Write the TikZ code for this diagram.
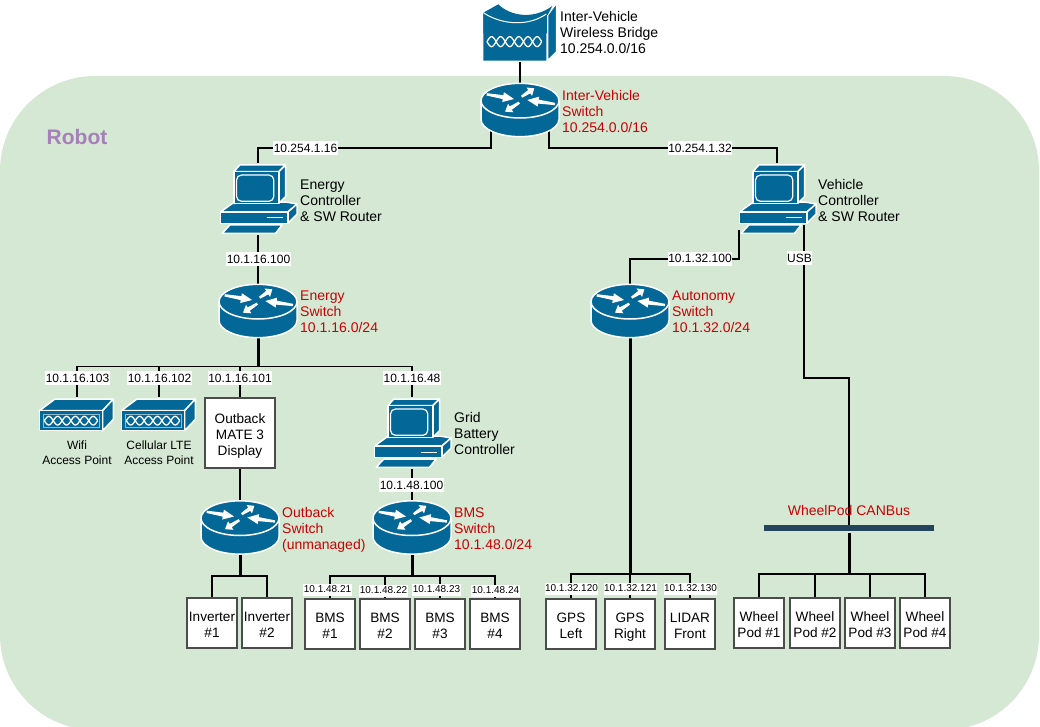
\documentclass[tikz,border=0pt]{standalone}
\usepackage{fontspec}
\setmainfont{Liberation Sans}
\usetikzlibrary{calc}
\definecolor{cisco}{HTML}{036897}
\definecolor{robotbg}{HTML}{D5E8D4}
\definecolor{robotpurple}{HTML}{A680B8}
\definecolor{redtxt}{HTML}{CC0000}
\definecolor{canbus}{HTML}{23445D}
\newcommand{\bt}{\rule{0pt}{15.5pt}}
\newcommand{\bb}{\rule[-3.5pt]{0pt}{3.5pt}}
\newcommand{\rarr}[2]{\fill[white] ($(#1)!3.5pt!90:(#2)$) -- ($(#1)!.6!(#2)!6pt!90:(#2)$) -- ($(#1)!.6!(#2)!15pt!90:(#2)$) -- (#2) -- ($(#1)!.6!(#2)!15pt!-90:(#2)$) -- ($(#1)!.6!(#2)!6pt!-90:(#2)$) -- ($(#1)!3.5pt!-90:(#2)$) -- cycle;}
\newcommand{\wavechain}[4]{%
  \draw[white,line width=1.3] plot[domain=0:6,samples=61,smooth] ({#1+(#2-#1)*\x/6},{#3+#4*sin(180*\x)});
  \draw[white,line width=1.3] plot[domain=0:6,samples=61,smooth] ({#1+(#2-#1)*\x/6},{#3-#4*sin(180*\x)});}
\tikzset{
  x=1pt,y=-1pt,
  routernode/.style={inner sep=0,minimum width=78,minimum height=54},
  pcnode/.style={inner sep=0,minimum width=78,minimum height=72},
  apnode/.style={inner sep=0,minimum width=76,minimum height=34},
  bridgenode/.style={inner sep=0,minimum width=76,minimum height=60},
  wire/.style={line width=1.6,black},
  trunk/.style={line width=3,black},
  boxnode/.style={draw=black!70,line width=1.4,fill=white,inner sep=0,minimum width=50,minimum height=50,align=center,font=\fontsize{13.6}{16}\selectfont},
  tall/.style={minimum width=70,minimum height=70},
  iptag/.style={fill=white,inner xsep=0.5,inner ysep=0,minimum height=14,font=\fontsize{12}{14}\selectfont},
  iptagsmall/.style={fill=white,inner xsep=0.5,inner ysep=0,minimum height=12,font=\fontsize{10}{12}\selectfont},
  desc/.style={anchor=west,inner sep=0,align=left,yshift=-2.8pt,font=\fontsize{14}{16}\selectfont,execute at end node={\strut}},
  reddesc/.style={desc,text=redtxt},
  caption/.style={inner sep=0,align=center,font=\fontsize{12}{15}\selectfont},
  body/.style={fill=cisco,draw=white,line width=1.5,line join=round},
  routericon/.pic={
    \begin{scope}[scale=1/3,shift={(-240,-330)}]
      \path[body] (123,302) -- (123,358) .. controls (123,387) and (176,410) .. (240,410) .. controls (304,410) and (357,387) .. (357,358) -- (357,302) -- cycle;
      \path[body] (240,302) ellipse [x radius=117,y radius=52];
      \rarr{140,283}{222,297}
      \rarr{245,290}{283,265}
      \rarr{345,312}{262,300}
      \rarr{238,308}{195,335}
    \end{scope}
  },
  pcicon/.pic={
    \begin{scope}[scale=1/3,shift={(-172.5,-177)}]
      \path[body] (100,95) -- (118,75) -- (255,75) -- (235,95) -- cycle;
      \path[body] (235,95) -- (255,75) -- (255,170) -- (235,190) -- cycle;
      \path[body] (60,216) -- (96,190) -- (256,186) -- (290,192) -- (262,216) -- cycle;
      \path[body] (100,95) rectangle (235,190);
      \draw[white,line width=1.2,rounded corners=5,fill=cisco] (108,105) rectangle (220,184);
      \path[body] (262,216) -- (290,192) -- (290,222) -- (262,250) -- cycle;
      \path[body] (60,216) rectangle (262,250);
      \draw[white,line width=1] (198,234) -- (248,234);
      \path[body] (65,280) -- (88,255) -- (245,255) -- (225,280) -- cycle;
    \end{scope}
  },
  bridgeicon/.pic={
    \begin{scope}[scale=1/3,shift={(-135,-96)}]
      \path[body] (218,45) -- (245,8) -- (245,155) -- (218,182) -- cycle;
      \path[fill=cisco] (25,38) -- (70,13) .. controls (105,48) and (175,60) .. (232,18) -- (218,45) -- (218,100) -- (25,100) -- cycle;
      \path[fill=cisco] (25,38) .. controls (80,75) and (160,80) .. (214,42) -- (214,182) -- (25,182) -- cycle;
      \draw[white,line width=1] (25,38) .. controls (80,75) and (160,80) .. (214,42);
      \draw[white,line width=1] (216,45) -- (216,183);
      \wavechain{36}{200}{125}{15}
    \end{scope}
  },
  apicon/.pic={
    \begin{scope}[scale=1/3,shift={(-126,-73.5)}]
      \path[body] (13,62) -- (60,27) -- (235,27) -- (203,62) -- cycle;
      \path[body] (203,62) -- (235,27) -- (235,88) -- (203,122) -- cycle;
      \path[body] (13,62) rectangle (203,122);
      \draw[white!55!cisco,line width=.5] (24,73) rectangle (193,112);
      \wavechain{28}{188}{92}{13}
    \end{scope}
  }
}
\begin{document}
\begin{tikzpicture}
\useasboundingbox (0,0) rectangle (1040,727);
\clip (0,0) rectangle (1040,727);
% robot area
\node[fill=robotbg,rounded corners=95,inner sep=0,minimum width=1039,minimum height=654] (area) at (519.5,403) {};
\node[anchor=west,inner sep=0,text=robotpurple,font=\bfseries\fontsize{21}{24}\selectfont] (robot) at (46.5,137) {Robot};

% icon anchors
\node[bridgenode] (bridge) at (520,32) {};
\node[routernode] (ivs) at (520,110) {};
\node[pcnode] (ec) at (258,199) {};
\node[pcnode] (vc) at (777,199) {};
\node[routernode] (es) at (258,311) {};
\node[routernode] (as) at (630,311) {};
\node[apnode] (ap1) at (77,414.5) {};
\node[apnode] (ap2) at (159,414.5) {};
\node[pcnode] (gc) at (412,433) {};
\node[routernode] (os) at (240,527.5) {};
\node[routernode] (bs) at (412,527.5) {};

% boxes
\node[boxnode,tall] (mate) at (240,433) {\bt Outback\\MATE 3\\Display\bb};
\node[boxnode] (inv1) at (212,623) {\bt Inverter\\\#1\bb};
\node[boxnode] (inv2) at (267,623) {\bt Inverter\\\#2\bb};
\node[boxnode] (bms1) at (330,624) {\bt BMS\\\#1\bb};
\node[boxnode] (bms2) at (385,624) {\bt BMS\\\#2\bb};
\node[boxnode] (bms3) at (440,624) {\bt BMS\\\#3\bb};
\node[boxnode] (bms4) at (495,624) {\bt BMS\\\#4\bb};
\node[boxnode] (gpsl) at (571,624) {\bt GPS\\Left\bb};
\node[boxnode] (gpsr) at (630,624) {\bt GPS\\Right\bb};
\node[boxnode] (lidar) at (690,624) {\bt LIDAR\\Front\bb};
\node[boxnode] (wp1) at (759,623) {\bt Wheel\\Pod \#1\bb};
\node[boxnode] (wp2) at (815,623) {\bt Wheel\\Pod \#2\bb};
\node[boxnode] (wp3) at (870,623) {\bt Wheel\\Pod \#3\bb};
\node[boxnode] (wp4) at (925,623) {\bt Wheel\\Pod \#4\bb};
\node[fill=canbus,inner sep=0,minimum width=170,minimum height=6] (can) at (849,528) {};

% free connector ends and junctions
\coordinate (ivL) at (491,130);
\coordinate (ivR) at (549,130);
\coordinate (vcL) at (739,230);
\coordinate (vcR) at (804,225);
\coordinate (usbK) at (804,378);
\coordinate (ej) at (258,366.5);
\coordinate (oj) at (240,576);
\coordinate (bj) at (412,576);
\coordinate (aj) at (630,574);
\coordinate (canb) at (849,533);
\coordinate (wj) at (849,574);

% connectors
\draw[wire] (bridge.south) -- (ivs.north);
\draw[wire] (ivL) -- ++(0,18) -| (ec.north);
\draw[wire] (ivR) -- ++(0,18) -| (vc.north);
\draw[wire] (ec.south) -- (es.north);
\draw[wire] (vcL) -- ++(0,29) -| (as.north);
\draw[wire] (vcR) -- (usbK) -| (can.north);
\draw[trunk] (es.south) -- (ej);
\draw[wire] (ej) -| (ap1.north);
\draw[wire] (ej) -| (ap2.north);
\draw[wire] (ej) -| (mate.north);
\draw[wire] (ej) -| (gc.north);
\draw[wire] (mate.south) -- (os.north);
\draw[wire] (gc.south) -- (bs.north);
\draw[trunk] (os.south) -- (oj);
\draw[wire] (oj) -| (inv1.north);
\draw[wire] (oj) -| (inv2.north);
\draw[trunk] (bs.south) -- (bj);
\draw[wire] (bj) -| (bms1.north);
\draw[wire] (bj) -| (bms2.north);
\draw[wire] (bj) -| (bms3.north);
\draw[wire] (bj) -| (bms4.north);
\draw[trunk] (as.south) -- (aj);
\draw[wire] (aj) -| (gpsl.north);
\draw[wire] (aj) -- (gpsr.north);
\draw[wire] (aj) -| (lidar.north);
\draw[trunk] (canb) -- (wj);
\draw[wire] (wj) -| (wp1.north);
\draw[wire] (wj) -| (wp2.north);
\draw[wire] (wj) -| (wp3.north);
\draw[wire] (wj) -| (wp4.north);

% connector labels
\node[iptag] (t1) at (305.5,148) {10.254.1.16};
\node[iptag] (t2) at (700,148) {10.254.1.32};
\node[iptag] (t3) at (258.5,259) {10.1.16.100};
\node[iptag] (t4) at (700,258.5) {10.1.32.100};
\node[iptag] (t5) at (799.5,258) {USB};
\node[iptag] (t6) at (77.5,378) {10.1.16.103};
\node[iptag] (t7) at (159.5,378) {10.1.16.102};
\node[iptag] (t8) at (240,378) {10.1.16.101};
\node[iptag] (t9) at (412,378) {10.1.16.48};
\node[iptag] (t10) at (411.5,485) {10.1.48.100};
\node[iptagsmall] (s1) at (327.5,589.5) {10.1.48.21};
\node[iptagsmall] (s2) at (383.5,590.5) {10.1.48.22};
\node[iptagsmall] (s3) at (436.5,589.5) {10.1.48.23};
\node[iptagsmall] (s4) at (495.5,590.5) {10.1.48.24};
\node[iptagsmall] (s5) at (571.5,588.5) {10.1.32.120};
\node[iptagsmall] (s6) at (630.5,588.5) {10.1.32.121};
\node[iptagsmall] (s7) at (690.5,588.5) {10.1.32.130};

% icons
\pic at (bridge) {bridgeicon};
\pic at (ivs) {routericon};
\pic at (ec) {pcicon};
\pic at (vc) {pcicon};
\pic at (es) {routericon};
\pic at (as) {routericon};
\pic at (ap1) {apicon};
\pic at (ap2) {apicon};
\pic at (gc) {pcicon};
\pic at (os) {routericon};
\pic at (bs) {routericon};

% descriptions
\node[desc] (d1) at (560,32) {Inter-Vehicle\\Wireless Bridge\\10.254.0.0/16};
\node[reddesc] (d2) at (562,111) {Inter-Vehicle\\Switch\\10.254.0.0/16};
\node[desc] (d3) at (300,200) {Energy\\Controller\\\& SW Router};
\node[desc] (d4) at (818,200) {Vehicle\\Controller\\\& SW Router};
\node[reddesc] (d5) at (300,311) {Energy\\Switch\\10.1.16.0/24};
\node[reddesc] (d6) at (672,311) {Autonomy\\Switch\\10.1.32.0/24};
\node[desc] (d7) at (454,433) {Grid\\Battery\\Controller};
\node[reddesc] (d8) at (282,528) {Outback\\Switch\\(unmanaged)};
\node[reddesc] (d9) at (454,528) {BMS\\Switch\\10.1.48.0/24};
\node[caption] (c1) at (77,453) {Wifi\\Access Point};
\node[caption] (c2) at (159,453) {Cellular LTE\\Access Point};
\node[inner sep=0,text=redtxt,font=\fontsize{14}{16}\selectfont] (canl) at (849,510) {WheelPod CANBus};
\end{tikzpicture}
\end{document}
